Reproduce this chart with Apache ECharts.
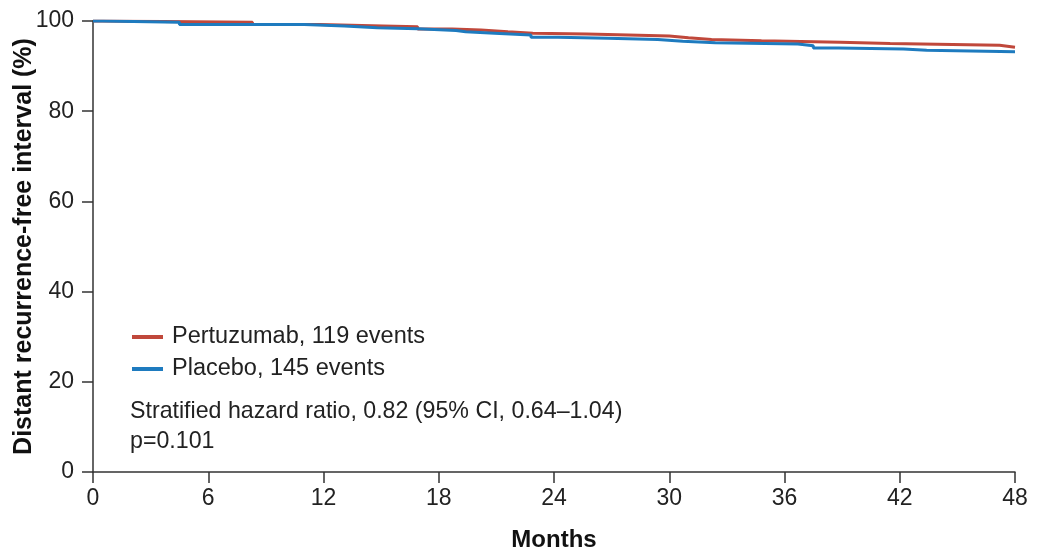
<!DOCTYPE html>
<html>
<head>
<meta charset="utf-8">
<script src="https://cdn.jsdelivr.net/npm/echarts@6/dist/echarts.min.js"></script>
<style>
  html, body { margin: 0; padding: 0; background: #fff; }
  #km { width: 1039px; height: 555px; }
</style>
</head>
<body>
<div id="km"></div>
<script>
// step points: [month, % free] -- value holds from that month until the next point
var pertuzumab = [
  [0, 100], [0.5, 99.7], [8.3, 99.2], [11.8, 98.9], [15.1, 98.7], [16.9, 98.2],
  [18.7, 98.0], [20.2, 97.6], [21.6, 97.3], [22.9, 97.1], [25.7, 97.0], [26.8, 96.7],
  [30.0, 96.3], [31.0, 95.9], [32.2, 95.6], [34.8, 95.3], [38.9, 95.0], [41.5, 94.6],
  [47.2, 94.2], [48, 94.2]
];
var placebo = [
  [0, 100], [0.5, 99.7], [4.5, 99.2], [11.0, 98.9], [13.1, 98.5], [14.8, 98.3],
  [16.9, 97.9], [18.9, 97.6], [19.4, 97.3], [20.9, 96.9], [22.8, 96.4], [24.2, 96.2],
  [26.8, 95.9], [29.4, 95.5], [30.7, 95.2], [32.4, 94.9], [36.7, 94.5], [37.5, 94.0],
  [38.8, 93.8], [42.2, 93.5], [43.4, 93.2], [48, 93.2]
];
var seriesNames = ['Pertuzumab, 119 events', 'Placebo, 145 events'];
var statLines = ['Stratified hazard ratio, 0.82 (95% CI, 0.64\u20131.04)', 'p=0.101'];

var red = '#c0483b';
var blue = '#1e7bbf';
var font = 'Arial, "Liberation Sans", sans-serif';

var myChart = echarts.init(document.getElementById('km'));

var option = {
    animation: false,
    textStyle: { fontFamily: font },
    grid: { left: 93, right: 24, top: 21, bottom: 83, outerBoundsMode: 'none', containLabel: false },
    legend: {
        data: seriesNames,
        orient: 'vertical',
        left: 127,
        top: 320,
        itemWidth: 31,
        itemHeight: 4,
        itemGap: 8,
        icon: 'rect',
        textStyle: { fontSize: 23.5, color: '#222', fontFamily: font, padding: [0, 0, 0, 4] }
    },
    xAxis: {
        type: 'value',
        min: 0,
        max: 48,
        interval: 6,
        name: 'Months',
        nameLocation: 'middle',
        nameGap: 56,
        nameMoveOverlap: false,
        nameTextStyle: { fontSize: 24, fontWeight: 'bold', color: '#111' },
        axisLine: { onZero: false, lineStyle: { color: '#333', width: 1.5 } },
        axisTick: { length: 11, lineStyle: { color: '#333', width: 1.5 } },
        axisLabel: { fontSize: 23, color: '#222', margin: 15 },
        splitLine: { show: false }
    },
    yAxis: {
        type: 'value',
        min: 0,
        max: 100,
        interval: 20,
        name: 'Distant recurrence-free interval (%)',
        nameLocation: 'middle',
        nameGap: 56,
        nameMoveOverlap: false,
        nameTextStyle: { fontSize: 25, fontWeight: 'bold', color: '#111' },
        axisLine: { show: true, lineStyle: { color: '#333', width: 1.5 } },
        axisTick: { show: true, length: 11, lineStyle: { color: '#333', width: 1.5 } },
        axisLabel: { fontSize: 23, color: '#222', margin: 19 },
        splitLine: { show: false }
    },
    graphic: [
        {
            type: 'text',
            left: 130,
            top: 397,
            style: { text: statLines.join('\n'), lineHeight: 30, fill: '#222', font: '23.2px ' + font }
        }
    ],
    series: [
        {
            name: seriesNames[0],
            type: 'line',
            step: 'end',
            data: pertuzumab,
            showSymbol: false,
            symbol: 'none',
            itemStyle: { color: red },
            lineStyle: { color: red, width: 3 }
        },
        {
            name: seriesNames[1],
            type: 'line',
            step: 'end',
            data: placebo,
            showSymbol: false,
            symbol: 'none',
            itemStyle: { color: blue },
            lineStyle: { color: blue, width: 3 }
        }
    ]
};

myChart.setOption(option);
</script>
</body>
</html>
